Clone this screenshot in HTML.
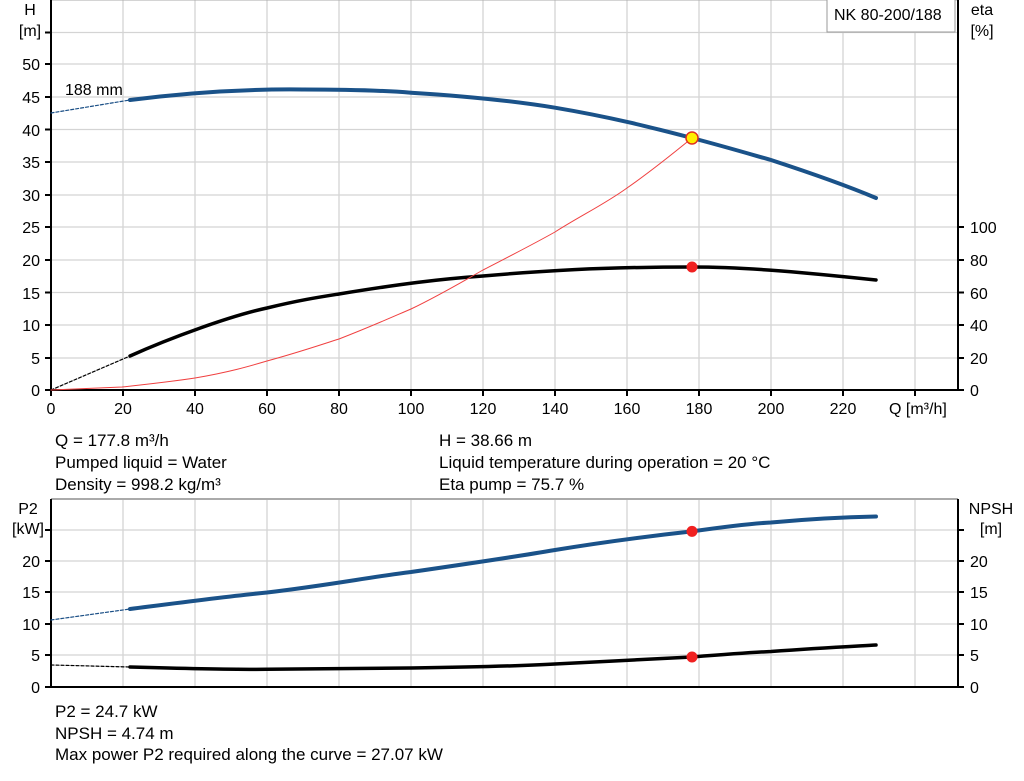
<!DOCTYPE html>
<html><head><meta charset="utf-8"><style>
body{margin:0;background:#fff;}
svg{display:block;font-family:"Liberation Sans",Arial,sans-serif;}
</style></head><body>
<svg width="1024" height="781" viewBox="0 0 1024 781" xmlns="http://www.w3.org/2000/svg">
<g stroke="#d4d4d4" stroke-width="1.3" fill="none">
<path d="M123 0V390M195 0V390M267 0V390M339 0V390M411 0V390M483 0V390M555 0V390M627 0V390M699 0V390M771 0V390M843 0V390M915 0V390"/>
<path d="M51 32.5H958M51 64H958M51 97H958M51 129.5H958M51 162H958M51 195H958M51 227H958M51 260H958M51 292.5H958M51 325H958M51 358H958"/>
<path d="M123 499V687M195 499V687M267 499V687M339 499V687M411 499V687M483 499V687M555 499V687M627 499V687M699 499V687M771 499V687M843 499V687M915 499V687"/>
<path d="M51 530H958M51 561H958M51 592H958M51 624H958M51 655H958"/>
</g>
<path d="M51 499H958" stroke="#aaa" stroke-width="2"/>
<path d="M51 0H958" stroke="#aaa" stroke-width="1"/>
<g stroke="#000" stroke-width="2" fill="none">
<path d="M51 0V391M958 0V391M50 390H959"/>
<path d="M51 499V688M958 499V688M50 687H959"/>
<path d="M45 390H51M45 358H51M45 325H51M45 292.5H51M45 260H51M45 227H51M45 195H51M45 162H51M45 129.5H51M45 97H51M45 64H51M45 32.5H51"/>
<path d="M958 390H964M958 358H964M958 325H964M958 292.5H964M958 260H964M958 227H964"/>
<path d="M51 390V396M123 390V396M195 390V396M267 390V396M339 390V396M411 390V396M483 390V396M555 390V396M627 390V396M699 390V396M771 390V396M843 390V396M915 390V396"/>
<path d="M45 687H51M45 655H51M45 624H51M45 592H51M45 561H51M45 530H51"/>
<path d="M958 687H964M958 655H964M958 624H964M958 592H964M958 561H964M958 530H964"/>
</g>
<g font-size="16" fill="#000">
<g text-anchor="end">
<text x="40" y="396">0</text><text x="40" y="364">5</text><text x="40" y="331">10</text><text x="40" y="299">15</text><text x="40" y="266">20</text><text x="40" y="233">25</text><text x="40" y="201">30</text><text x="40" y="168">35</text><text x="40" y="136">40</text><text x="40" y="103">45</text><text x="40" y="70">50</text>
<text x="40" y="693">0</text><text x="40" y="661">5</text><text x="40" y="630">10</text><text x="40" y="598">15</text><text x="40" y="567">20</text>
</g>
<text x="30" y="15" text-anchor="middle">H</text><text x="30" y="36" text-anchor="middle">[m]</text>
<text x="28" y="514" text-anchor="middle">P2</text><text x="28" y="534" text-anchor="middle">[kW]</text>
<text x="982" y="15" text-anchor="middle">eta</text><text x="982" y="36" text-anchor="middle">[%]</text>
<text x="991" y="514" text-anchor="middle">NPSH</text><text x="991" y="534" text-anchor="middle">[m]</text>
<g>
<text x="970" y="396">0</text><text x="970" y="364">20</text><text x="970" y="331">40</text><text x="970" y="299">60</text><text x="970" y="266">80</text><text x="970" y="233">100</text>
<text x="970" y="693">0</text><text x="970" y="661">5</text><text x="970" y="630">10</text><text x="970" y="598">15</text><text x="970" y="567">20</text>
</g>
<g text-anchor="middle">
<text x="51" y="414">0</text><text x="123" y="414">20</text><text x="195" y="414">40</text><text x="267" y="414">60</text><text x="339" y="414">80</text><text x="411" y="414">100</text><text x="483" y="414">120</text><text x="555" y="414">140</text><text x="627" y="414">160</text><text x="699" y="414">180</text><text x="771" y="414">200</text><text x="843" y="414">220</text>
</g>
<text x="889" y="414">Q [m³/h]</text>
<text x="65" y="95">188 mm</text>
<g font-size="17">
<text x="55" y="446">Q = 177.8 m³/h</text>
<text x="55" y="468">Pumped liquid = Water</text>
<text x="55" y="490">Density = 998.2 kg/m³</text>
<text x="439" y="446">H = 38.66 m</text>
<text x="439" y="468">Liquid temperature during operation = 20 °C</text>
<text x="439" y="490">Eta pump = 75.7 %</text>
<text x="55" y="717">P2 = 24.7 kW</text>
<text x="55" y="739">NPSH = 4.74 m</text>
<text x="55" y="760">Max power P2 required along the curve = 27.07 kW</text>
</g>
</g>
<rect x="827" y="-1" width="128" height="33" fill="#fff" stroke="#999"/>
<text x="834" y="20" font-size="16">NK 80-200/188</text>
<g fill="none" stroke-linecap="round" stroke-linejoin="round">
<path d="M51 113L130 100" stroke="#1a4f86" stroke-width="1.2" stroke-dasharray="3,2"/>
<path d="M130 100C200 91 260 89 303 89.5C360 89.5 390 91 411 92.7C480 97 520 102 555 107.7C610 117 650 127 692 138C730 148 760 157 771 160C820 176 850 187 876 198" stroke="#1a5289" stroke-width="4"/>
<path d="M51 390L130 356" stroke="#000" stroke-width="1.2" stroke-dasharray="3,2"/>
<path d="M130 356C170 338 230 316 267 308C300 300 320 297 339 294C400 284 440 279 483 276C540 271 600 267 692 267C740 267 790 271 876 280" stroke="#000" stroke-width="3.5"/>
<path d="M51 390L122 387C150 384 175 381 195 378C230 372 250 366 267 361C300 352 320 345 339 339C370 327 390 318 411 309C440 295 460 283 483 270C510 256 530 246 555 232C580 216 605 204 627 188C650 172 670 156 692 138" stroke="#f04040" stroke-width="1"/>
<path d="M51 620L130 609" stroke="#1a4f86" stroke-width="1.2" stroke-dasharray="3,2"/>
<path d="M130 609C200 600 230 596 267 592.5C330 585 370 577 411 572C480 562 520 556 555 550C610 541 650 536 692 531.4C730 526 760 523 771 522.5C820 518 850 517 876 516.5" stroke="#1a5289" stroke-width="4"/>
<path d="M51 665L130 667" stroke="#000" stroke-width="1.2" stroke-dasharray="3,2"/>
<path d="M130 667C200 669 240 669.5 267 669.3C350 669 380 668.5 411 668C480 667 520 666 555 664C620 661 660 659 692 657C730 654 760 652 771 651.5C820 648 850 646.5 876 645" stroke="#000" stroke-width="3.5"/>
</g>
<circle cx="692" cy="138" r="6" fill="#ffee00" stroke="#e03020" stroke-width="1.5"/>
<circle cx="692" cy="267" r="5.5" fill="#f02020"/>
<circle cx="692" cy="531.4" r="5.5" fill="#f02020"/>
<circle cx="692" cy="657" r="5.5" fill="#f02020"/>
</svg>
</body></html>
